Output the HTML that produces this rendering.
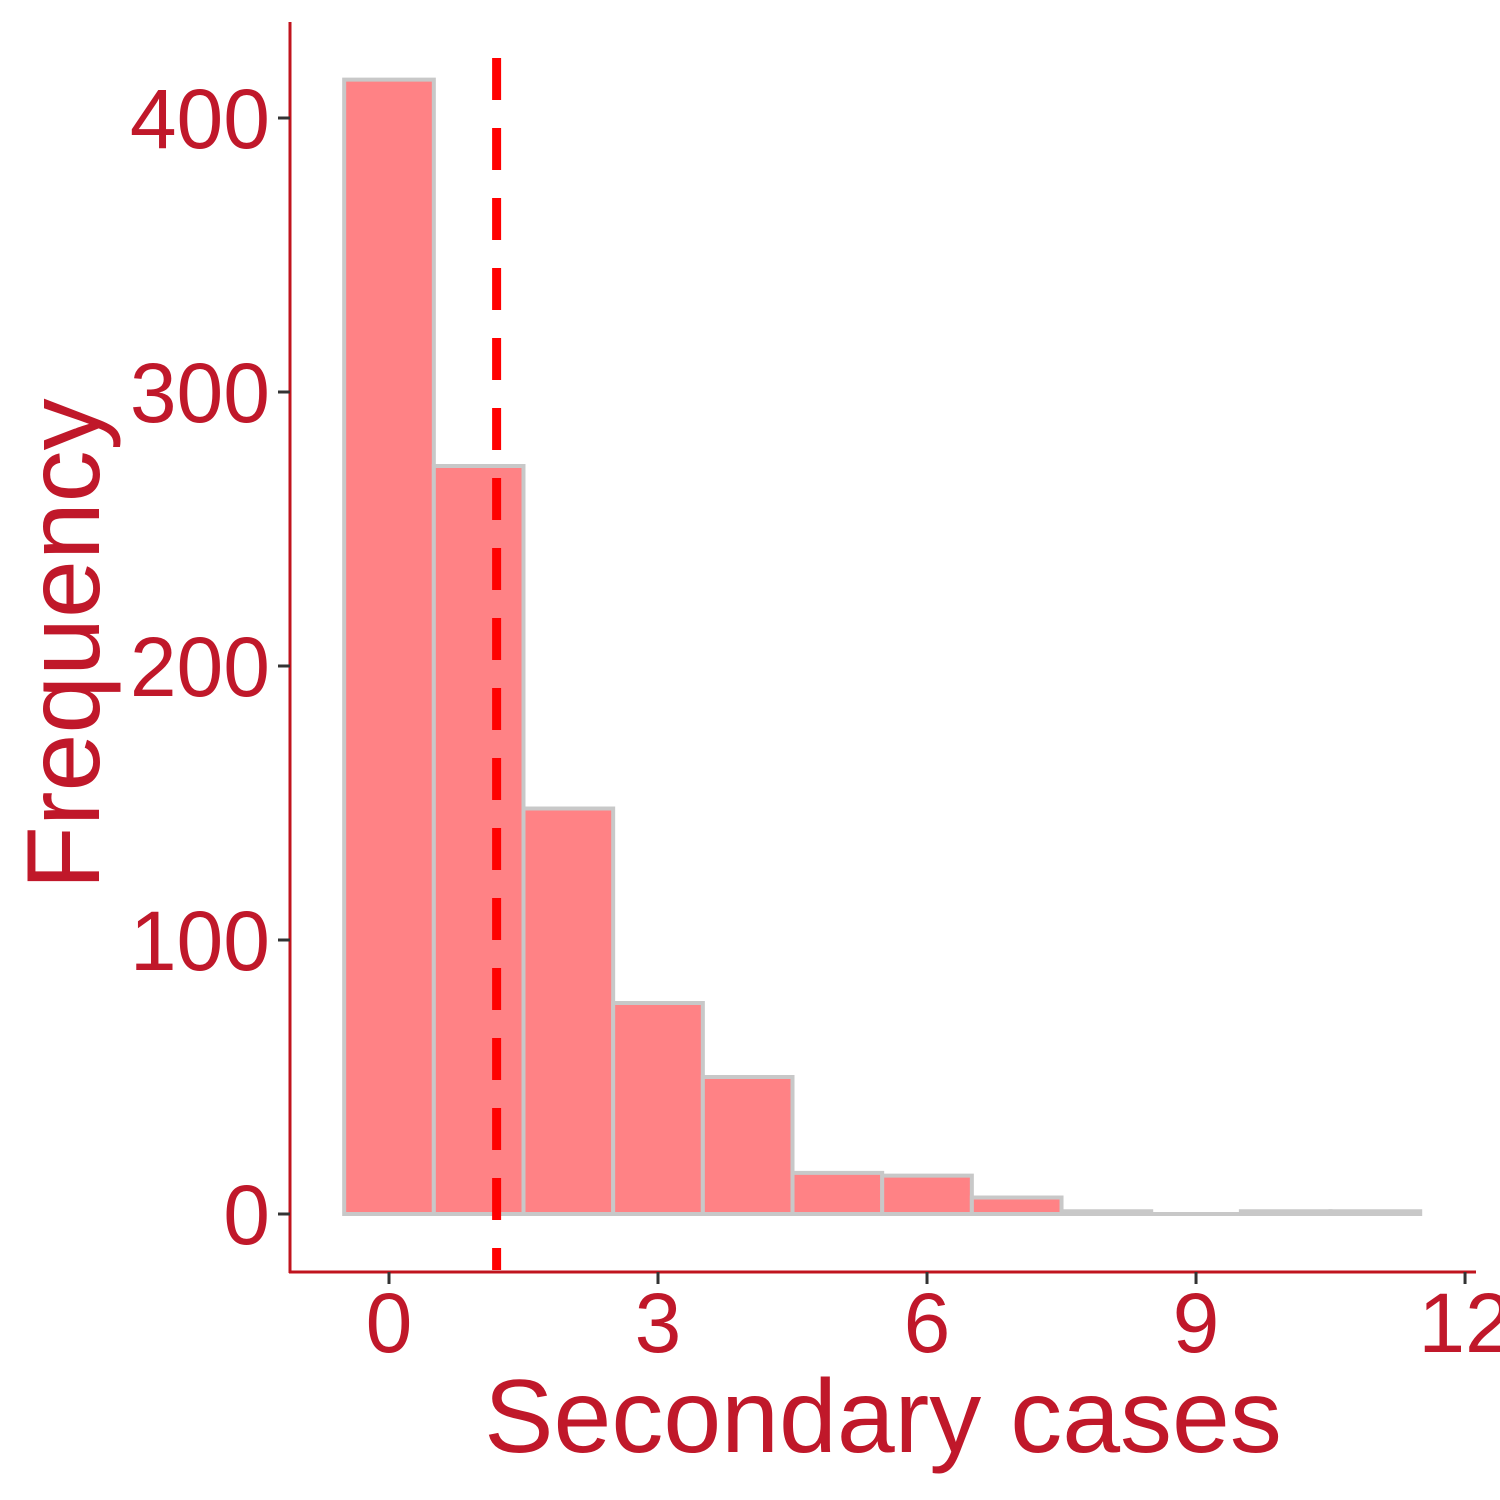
<!DOCTYPE html>
<html><head><meta charset="utf-8"><style>
html,body{margin:0;padding:0;background:#fff;}
svg{display:block;font-family:"Liberation Sans",Arial,sans-serif;}
</style></head><body>
<svg id="chart" width="1500" height="1500" viewBox="0 0 1500 1500">
<g id="bars"></g>
<g id="axes"></g>
</svg>
<script>
const binCenters = [0,1,2,3,4,5,6,7,8,9,10,11];
const frequencies = [414,273,148,77,50,15,14,6,1,0,1,1];
const yTicks = [0,100,200,300,400];
const xTicks = [0,3,6,9,12];
const meanValue = 1.2;

const NS = "http://www.w3.org/2000/svg";
const xs = v => 389 + v * 89.67;
const ys = v => 1214 - v * 2.74;
const bars = document.getElementById('bars');
const axes = document.getElementById('axes');
function mk(tag, attrs, parent){ const e=document.createElementNS(NS,tag); for(const k in attrs) e.setAttribute(k,attrs[k]); parent.appendChild(e); return e; }

binCenters.forEach((c,i)=>{
  const x0=xs(c-0.5), x1=xs(c+0.5), y=ys(frequencies[i]), yb=ys(0);
  const r=mk('path',{d:`M${x0},${yb}L${x0},${y}L${x1},${y}L${x1},${yb}Z`,fill:'#ff8285',stroke:'#c8c8c8','stroke-width':4},bars);
  
  
});

const ml=mk('line',{x1:xs(meanValue),x2:xs(meanValue),y1:58,y2:1270,stroke:'#ff0000','stroke-width':9,'stroke-dasharray':'42 28'},bars);



const ya=mk('line',{x1:290,x2:290,y1:22,y2:1273,stroke:'#c0141e','stroke-width':3},axes);


const xa=mk('line',{x1:289,x2:1476,y1:1272,y2:1272,stroke:'#c0141e','stroke-width':3},axes);



yTicks.forEach(t=>{
  const y=ys(t);
  const tk=mk('line',{x1:278,x2:290,y1:y,y2:y,stroke:'#333','stroke-width':3},axes);
  
  
  const tx=mk('text',{x:270,y:y+30,'text-anchor':'end','font-size':84,fill:'#c0182a'},axes);
  tx.textContent=t;
  
  
});
xTicks.forEach(t=>{
  const x=xs(t);
  const tk=mk('line',{x1:x,x2:x,y1:1272,y2:1284,stroke:'#333','stroke-width':3},axes);
  
  
  const tx=mk('text',{x:x,y:1352,'text-anchor':'middle','font-size':84,fill:'#c0182a'},axes);
  tx.textContent=t;
  
  
});
const xt=mk('text',{x:883,y:1452,'text-anchor':'middle','font-size':104,fill:'#c0182a'},axes);
xt.textContent='Secondary cases';


const yt=mk('text',{x:0,y:0,'text-anchor':'middle','font-size':104,fill:'#c0182a',transform:'translate(99,644) rotate(-90)'},axes);
yt.textContent='Frequency';


</script>
</body></html>
